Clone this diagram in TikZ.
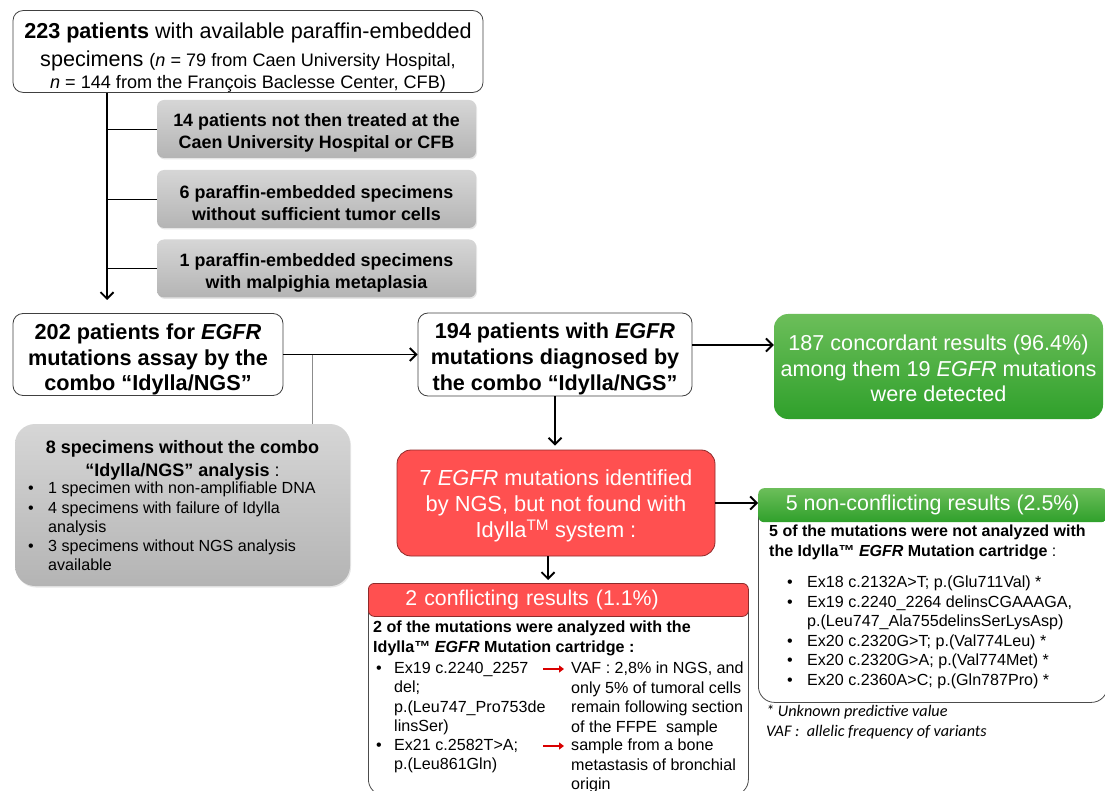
\documentclass[tikz,border=0pt]{standalone}
\usepackage{fontspec}
\setmainfont{Liberation Sans}
\newfontfamily\notefont{Carlito}
\usetikzlibrary{arrows.meta,shadows}

\definecolor{boxred}{HTML}{FF5050}
\definecolor{edgered}{HTML}{8E2A2A}
\definecolor{greentop}{HTML}{6CBE5A}
\definecolor{greenbot}{HTML}{2FA02B}
\definecolor{greytop}{HTML}{D6D6D6}
\definecolor{greybot}{HTML}{B4B4B4}

\newcommand{\fsz}[2]{\fontsize{#1}{#2}\selectfont}
\newcommand{\bitem}[1][18pt]{\makebox[#1][l]{\textbullet}}
\newcommand{\bcont}[1][18pt]{\hspace*{#1}}
\newcommand{\padtop}[1]{\rule{0pt}{\dimexpr0.74em+#1\relax}}

\tikzset{
	plainbox/.style={draw=black!75, fill=white, rounded corners=10pt, line width=0.8pt, align=center, inner sep=0pt},
	greybox/.style={top color=greytop, bottom color=greybot, rounded corners=7pt, align=center, inner sep=0pt,
		drop shadow={opacity=0.2, shadow xshift=1pt, shadow yshift=-1.5pt}},
	greenbox/.style={top color=greentop, bottom color=greenbot, rounded corners=14pt, text=white, align=center, inner sep=0pt},
	redbox/.style={fill=boxred, draw=edgered, line width=0.8pt, rounded corners=14pt, text=white, align=center, inner sep=0pt},
	bodybox/.style={draw=black!70, fill=white, line width=0.8pt, rounded corners=16pt},
	listtext/.style={anchor=north west, align=left, inner sep=0pt},
	arr/.style={-{Straight Barb[length=6.5pt,width=13pt]}, line width=1.9pt},
	redarr/.style={-{Triangle[length=5pt,width=7pt]}, draw=red!85!black, line width=2pt},
}

\begin{document}
\begin{tikzpicture}[x=1pt, y=-1pt]
	\useasboundingbox (0,0) rectangle (1105,791);
	
	%%%%% START %%%%%
	
	\node[plainbox, minimum width=470pt, minimum height=79pt, font=\fsz{21.6}{28}] (start) at (248,51.5)
		{\padtop{12pt}{\bfseries 223 patients} with available paraffin-embedded\\
		 specimens {\fsz{18.1}{22}(\textit{n} = 79 from Caen University Hospital,}\\[-6pt]
		 {\fsz{18.1}{22}\textit{n} = 144 from the François Baclesse Center, CFB)}};
	
	\node[greybox, minimum width=319pt, minimum height=58pt, font=\fsz{17.9}{22}\bfseries] (excl1) at (316.5,129)
		{\padtop{8pt}14 patients not then treated at the\\Caen University Hospital or CFB};
	\node[greybox, minimum width=319pt, minimum height=58pt, font=\fsz{17.9}{22}\bfseries] (excl2) at (316.5,199)
		{\padtop{8pt}6 paraffin-embedded specimens\\without sufficient tumor cells};
	\node[greybox, minimum width=319pt, minimum height=58pt, font=\fsz{17.9}{22}\bfseries] (excl3) at (316.5,268.5)
		{\padtop{8pt}1 paraffin-embedded specimens\\with malpighia metaplasia};
	
	\coordinate (trunkend) at (107,300);
	\draw[arr] (start.south -| trunkend) -- (trunkend);
	\foreach \e in {excl1,excl2,excl3}
		\draw[line width=0.6pt] (\e.west) -- (\e.west -| trunkend);
	
	% second row
	\node[plainbox, minimum width=270pt, minimum height=82pt, font=\fsz{21.7}{25.5}\bfseries] (assay) at (148,354.5)
		{\padtop{10pt}202 patients for \textit{EGFR}\\mutations assay by the\\combo “Idylla/NGS”};
	\node[plainbox, minimum width=274pt, minimum height=83pt, font=\fsz{21.6}{26}\bfseries] (diag) at (555,354.5)
		{\padtop{8pt}194 patients with \textit{EGFR}\\mutations diagnosed by\\the combo “Idylla/NGS”};
	\node[greenbox, minimum width=329pt, minimum height=105pt, font=\fsz{21.6}{25.5}] (concord) at (938.5,366.5)
		{\padtop{4pt}187 concordant results (96.4\%)\\among them 19 \textit{EGFR} mutations\\were detected};
	
	\draw[arr] (assay.east) -- (diag.west);
	\draw[arr] ([yshift=9.5pt]diag.east) -- ([yshift=9.5pt]diag.east -| concord.west);
	
	% specimens left out
	\node[greybox, rounded corners=20pt, minimum width=335pt, minimum height=162pt] (nocombo) at (182.5,505) {};
	\node[font=\fsz{18}{23}\bfseries, align=center, inner sep=0pt] (nocombotitle) at (182.5,460)
		{8 specimens without the combo\\“Idylla/NGS” analysis {\mdseries :}};
	\node[listtext, font=\fsz{16.1}{19.2}] (nocombolist) at (28,482)
		{\bitem[20pt]1 specimen with non-amplifiable DNA\\
		 \bitem[20pt]4 specimens with failure of Idylla\\
		 \bcont[20pt]analysis\\
		 \bitem[20pt]3 specimens without NGS analysis\\
		 \bcont[20pt]available};
	
	\coordinate (split) at (312,354.5);
	\draw[black!45, line width=0.6pt] (split) -- (split |- nocombo.north);
	
	% discordant ones
	\node[redbox, minimum width=318pt, minimum height=106pt, font=\fsz{21.8}{26}] (ngsonly) at (556,503)
		{\padtop{6pt}7 \textit{EGFR} mutations identified\\by NGS, but not found with\\Idylla\textsuperscript{TM} system :};
	\draw[arr, shorten >=4pt] (diag.south) -- (diag.south |- ngsonly.north);
	
	% non conflicting
	\node[bodybox, minimum width=349pt, minimum height=214pt, anchor=north west] (nonconf) at (758,488) {};
	\node[greenbox, rounded corners=6pt, minimum width=349pt, minimum height=34pt, anchor=north west, font=\fsz{21.4}{22}] (nonconfhdr) at (758,488)
		{5 non-conflicting results (2.5\%)};
	\node[listtext, font=\fsz{16}{20}\bfseries] (nonconfnote) at (769,525)
		{5 of the mutations were not analyzed with\\the Idylla™ \textit{EGFR} Mutation cartridge {\mdseries :}};
	\node[listtext, font=\fsz{16.1}{19.5}] (nonconflist) at (787,576)
		{\bitem[20pt]Ex18 c.2132A>T; p.(Glu711Val) *\\
		 \bitem[20pt]Ex19 c.2240\_2264 delinsCGAAAGA,\\
		 \bcont[20pt]p.(Leu747\_Ala755delinsSerLysAsp)\\
		 \bitem[20pt]Ex20 c.2320G>T; p.(Val774Leu) *\\
		 \bitem[20pt]Ex20 c.2320G>A; p.(Val774Met) *\\
		 \bitem[20pt]Ex20 c.2360A>C; p.(Gln787Pro) *};
	\node[listtext, font=\notefont\itshape\fsz{16.2}{20}] (footnote) at (766,705)
		{* Unknown predictive value\\VAF :\ \ allelic frequency of variants};
	\draw[arr] (ngsonly.east) -- (ngsonly.east -| nonconfhdr.west);
	
	% conflicting
	\node[bodybox, minimum width=380pt, minimum height=212pt, anchor=north west] (conf) at (368,583) {};
	\node[redbox, rounded corners=6pt, minimum height=33pt, text width=306pt, inner xsep=37pt, align=left, anchor=north west, font=\fsz{21.3}{22}] (confhdr) at (368,583)
		{2 conflicting results (1.1\%)};
	\draw[arr, shorten >=3pt] ([xshift=-8pt]ngsonly.south) -- ([xshift=-8pt]ngsonly.south |- confhdr.north);
	\node[listtext, font=\fsz{16.1}{20}\bfseries] (confnote) at (373,621)
		{2 of the mutations were analyzed with the\\Idylla™ \textit{EGFR} Mutation cartridge :};
	\node[listtext, font=\fsz{16.1}{19.4}] (ex19) at (376,662)
		{\bitem Ex19 c.2240\_2257\\ \bcont del;\\ \bcont p.(Leu747\_Pro753de\\ \bcont linsSer)};
	\node[listtext, font=\fsz{16.1}{19.4}] (ex21) at (376,739)
		{\bitem Ex21 c.2582T>A;\\ \bcont p.(Leu861Gln)};
	\node[listtext, font=\fsz{16.1}{19.4}] (vaf19) at (571,662)
		{VAF : 2,8\% in NGS, and\\only 5\% of tumoral cells\\remain following section\\of the FFPE\ \ sample};
	\node[listtext, font=\fsz{16.1}{19.4}] (vaf21) at (571,739)
		{sample from a bone\\metastasis of bronchial\\origin};
	\draw[redarr] ([xshift=-28pt,yshift=-7pt]vaf19.north west) -- ([xshift=-7pt,yshift=-7pt]vaf19.north west);
	\draw[redarr] ([xshift=-28pt,yshift=-7pt]vaf21.north west) -- ([xshift=-7pt,yshift=-7pt]vaf21.north west);
	
	%%%%% END %%%%%
\end{tikzpicture}
\end{document}
